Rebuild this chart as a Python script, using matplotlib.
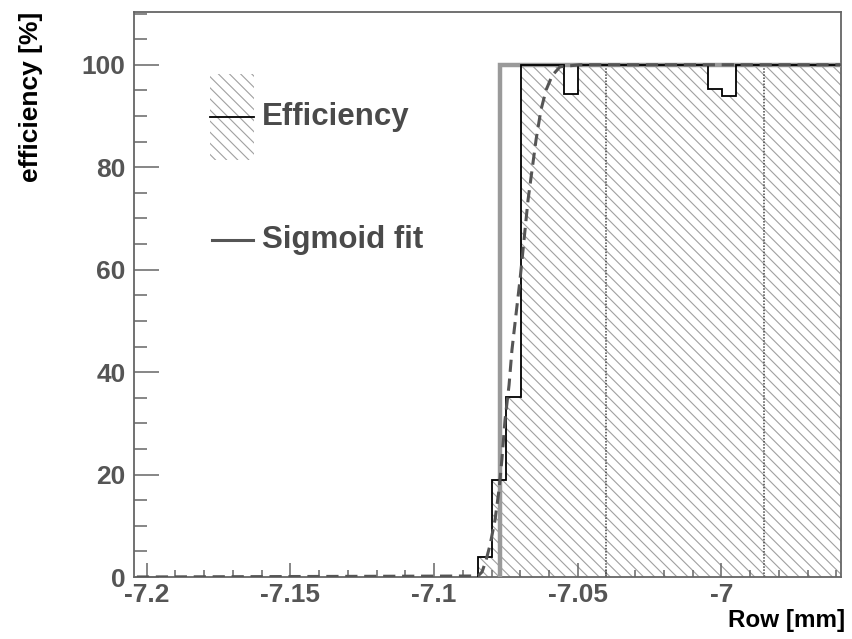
import numpy as np
import matplotlib
matplotlib.use("Agg")
import matplotlib.pyplot as plt
from matplotlib.ticker import MultipleLocator, FuncFormatter
from matplotlib.patches import Rectangle
from matplotlib.lines import Line2D

plt.rcParams['font.family'] = ['Liberation Sans', 'DejaVu Sans']
plt.rcParams['font.weight'] = 'bold'
plt.rcParams['axes.unicode_minus'] = False
plt.rcParams['hatch.linewidth'] = 0.8
plt.rcParams['hatch.color'] = '#a0a0a0'

# histogram of the efficiency (bin edges in mm, values in %)
bin_edges = [-7.0848, -7.0798, -7.0748, -7.0698, -7.0648, -7.0598, -7.0548,
             -7.0498, -7.0448, -7.0398, -7.0348, -7.0298, -7.0248, -7.0198,
             -7.0148, -7.0098, -7.0048, -6.9998, -6.9948, -6.9898, -6.9848,
             -6.9798, -6.9748, -6.9698, -6.9648, -6.9598, -6.9548]
eff_values = [3.9, 18.9, 35.2, 100, 100, 100, 94.3, 100, 100, 100, 100, 100,
              100, 100, 100, 100, 95.3, 93.9, 100, 100, 100, 100, 100, 100,
              100, 100]

# sigmoid fit
fit_x = [-7.21, -7.0847, -7.0833, -7.0819, -7.0805, -7.0788, -7.0774, -7.0764,
         -7.0753, -7.0739, -7.0729, -7.0715, -7.0701, -7.0687, -7.0673,
         -7.0659, -7.0645, -7.0628, -7.0610, -7.0589, -7.0562, -7.0493, -6.95]
fit_y = [0.0, 0.2, 1.0, 3.3, 6.3, 11.1, 17.0, 22.9, 30.7, 37.5, 44.3, 51.2,
         58.0, 65.8, 73.6, 79.5, 85.4, 91.2, 95.1, 97.9, 99.6, 100.0, 100.0]

# ideal edge (thick grey line)
edge_x = [-7.0771, -7.0771, -6.95]
edge_y = [0, 100, 100]

# dotted markers
dotted_x = [-7.0402, -6.9852]

HATCH = '\\\\\\'

fig = plt.figure(figsize=(8.52, 6.39), dpi=100)
ax = fig.add_axes([0.1573, 0.097, 0.8298, 0.8842])

ax.stairs(eff_values, bin_edges, fill=True, facecolor='white',
          edgecolor='#a0a0a0', hatch=HATCH, linewidth=0, zorder=1)
ax.vlines(dotted_x, 0, 100, colors='#444444', linestyles=(0, (1, 1)),
          linewidth=1.1, zorder=2)
ax.plot(edge_x, edge_y, color='#9a9a9a', lw=3.2, zorder=3,
        solid_joinstyle='miter')
ax.stairs(eff_values, bin_edges, fill=False, color='black', lw=1.3,
          baseline=0, zorder=4)
ax.plot(fit_x, fit_y, color='#555555', lw=2.2, dashes=(4, 2.2), zorder=5)

ax.set_xlim(-7.2044, -6.9584)
ax.set_ylim(0, 110.3)

ax.xaxis.set_major_locator(MultipleLocator(0.05))
ax.xaxis.set_minor_locator(MultipleLocator(0.01))
ax.yaxis.set_major_locator(MultipleLocator(20))
ax.yaxis.set_minor_locator(MultipleLocator(5))
ax.xaxis.set_major_formatter(FuncFormatter(lambda v, p: '%g' % round(v, 3)))

ax.tick_params(axis='both', which='both', direction='in', color='#666666',
               width=1.1, labelcolor='#555555', labelsize=19)
ax.tick_params(axis='y', which='major', length=18, pad=6)
ax.tick_params(axis='y', which='minor', length=9)
ax.tick_params(axis='x', which='major', length=10, pad=4)
ax.tick_params(axis='x', which='minor', length=5)
for lab in ax.get_xticklabels() + ax.get_yticklabels():
    lab.set_fontweight('bold')

for s in ax.spines.values():
    s.set_color('#666666')
    s.set_linewidth(1.3)

fig.text(0.036, 0.981, 'efficiency [%]', rotation=90, ha='center', va='top',
         fontsize=19, fontweight='bold', color='black')
fig.text(0.992, 0.0297, 'Row [mm]', ha='right', va='center',
         fontsize=17.5, fontweight='bold', color='black')

# legend, drawn the way ROOT lays it out
fig.patches.append(Rectangle((0.2465, 0.7496), 0.0516, 0.1346,
                             transform=fig.transFigure, facecolor='white',
                             edgecolor='#a0a0a0', hatch=HATCH, lw=0))
fig.lines.append(Line2D([0.2465, 0.2981], [0.8169, 0.8169],
                        transform=fig.transFigure, color='black', lw=1.3))
fig.text(0.3075, 0.8169, 'Efficiency', ha='left', va='center',
         fontsize=22.5, fontweight='bold', color='#4a4a4a')
fig.lines.append(Line2D([0.2488, 0.2970], [0.6244, 0.6244],
                        transform=fig.transFigure, color='#555555', lw=2.2))
fig.text(0.3075, 0.6244, 'Sigmoid fit', ha='left', va='center',
         fontsize=22.5, fontweight='bold', color='#4a4a4a')

fig.savefig('out.png', dpi=100)
